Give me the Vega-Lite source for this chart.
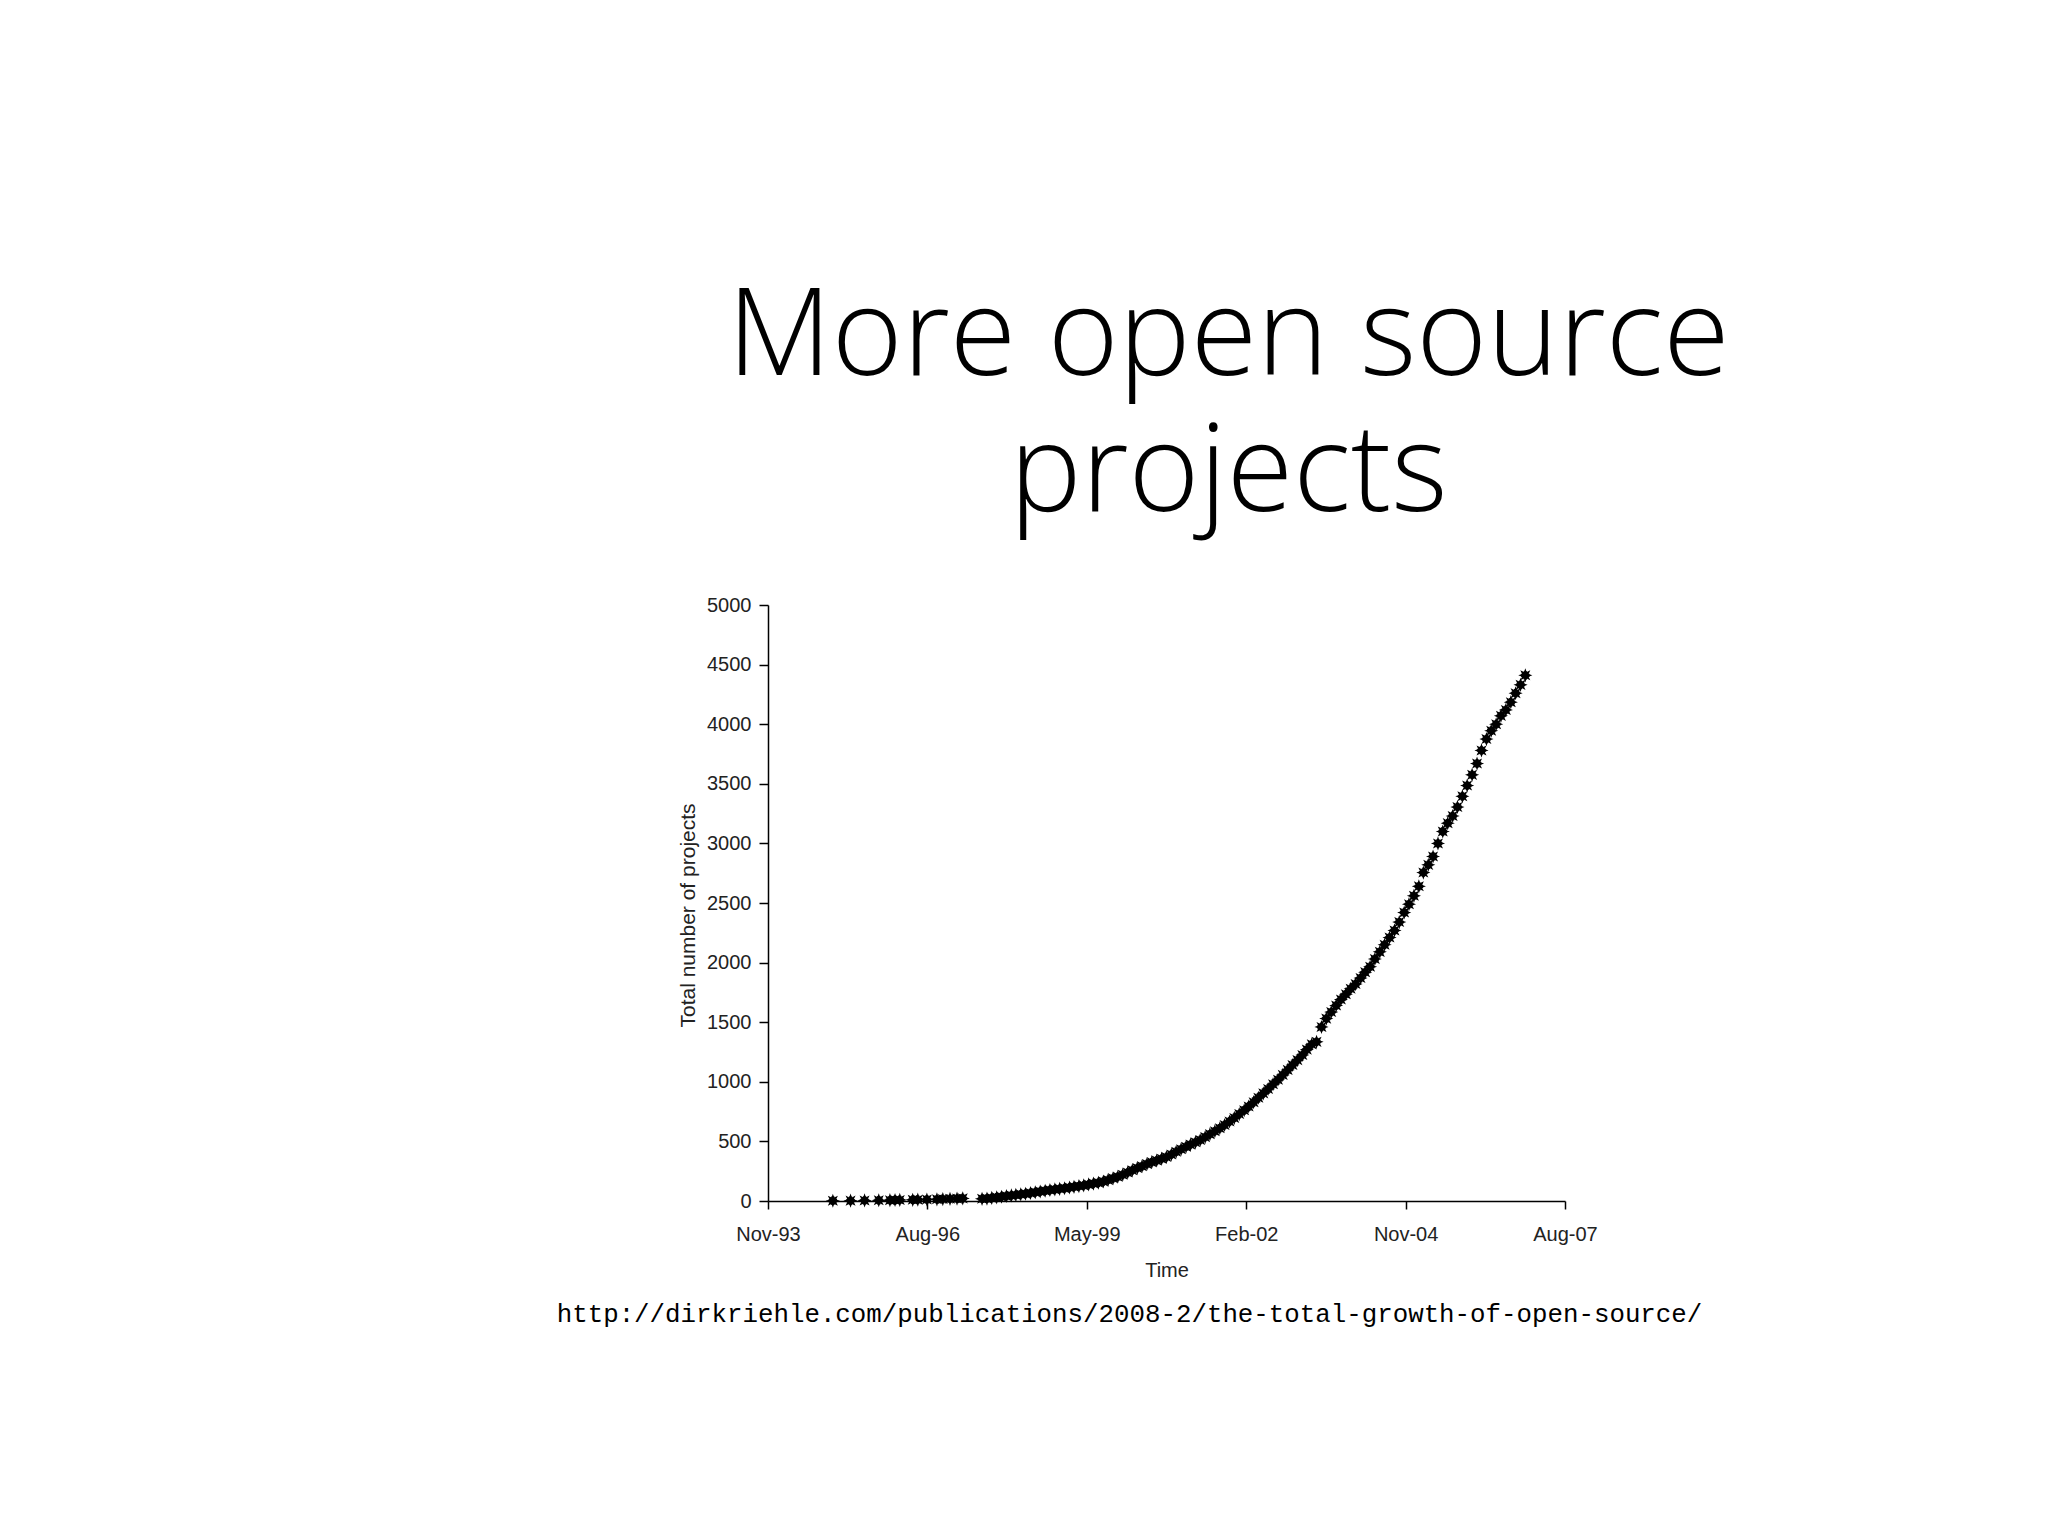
{
  "$schema": "https://vega.github.io/schema/vega-lite/v6.json",
  "width": 797,
  "height": 596,
  "autosize": {"type": "none"},
  "padding": {"left": 768, "top": 605, "right": 483, "bottom": 334},
  "background": "white",
  "title": {
    "text": ["More open source", "projects"],
    "orient": "top",
    "anchor": "middle",
    "frame": "group",
    "font": "Open Sans",
    "fontWeight": 300,
    "fontSize": 121,
    "lineHeight": 136,
    "color": "black",
    "baseline": "bottom",
    "offset": 50,
    "dx": 62,
    "dy": 112
  },
  "config": {"view": {"stroke": null}},
  "data": {
    "values": [
      {"d": "1995-01-08", "n": 2}, {"d": "1995-04-29", "n": 3}, {"d": "1995-07-26", "n": 5},
      {"d": "1995-10-23", "n": 6}, {"d": "1996-01-01", "n": 7}, {"d": "1996-02-02", "n": 8},
      {"d": "1996-03-03", "n": 9}, {"d": "1996-05-23", "n": 10}, {"d": "1996-06-24", "n": 11},
      {"d": "1996-08-20", "n": 13}, {"d": "1996-10-22", "n": 14}, {"d": "1996-11-28", "n": 16},
      {"d": "1997-01-12", "n": 18}, {"d": "1997-02-25", "n": 20}, {"d": "1997-04-02", "n": 22},
      {"d": "1997-08-01", "n": 18}, {"d": "1997-09-01", "n": 20}, {"d": "1997-10-01", "n": 26},
      {"d": "1997-11-01", "n": 31}, {"d": "1997-12-01", "n": 36},
      {"d": "1998-01-01", "n": 42}, {"d": "1998-02-01", "n": 47}, {"d": "1998-03-01", "n": 51},
      {"d": "1998-04-01", "n": 56}, {"d": "1998-05-01", "n": 61}, {"d": "1998-06-01", "n": 67},
      {"d": "1998-07-01", "n": 73}, {"d": "1998-08-01", "n": 80}, {"d": "1998-09-01", "n": 86},
      {"d": "1998-10-01", "n": 92}, {"d": "1998-11-01", "n": 97}, {"d": "1998-12-01", "n": 102},
      {"d": "1999-01-01", "n": 107}, {"d": "1999-02-01", "n": 113}, {"d": "1999-03-01", "n": 119},
      {"d": "1999-04-01", "n": 125}, {"d": "1999-05-01", "n": 131}, {"d": "1999-06-01", "n": 139},
      {"d": "1999-07-01", "n": 146}, {"d": "1999-08-01", "n": 153}, {"d": "1999-09-01", "n": 164},
      {"d": "1999-10-01", "n": 177}, {"d": "1999-11-01", "n": 190}, {"d": "1999-12-01", "n": 203},
      {"d": "2000-01-01", "n": 221}, {"d": "2000-02-01", "n": 239}, {"d": "2000-03-01", "n": 258},
      {"d": "2000-04-01", "n": 276}, {"d": "2000-05-01", "n": 292}, {"d": "2000-06-01", "n": 310},
      {"d": "2000-07-01", "n": 326}, {"d": "2000-08-01", "n": 340}, {"d": "2000-09-01", "n": 355},
      {"d": "2000-10-01", "n": 369}, {"d": "2000-11-01", "n": 390}, {"d": "2000-12-01", "n": 413},
      {"d": "2001-01-01", "n": 435}, {"d": "2001-02-01", "n": 455}, {"d": "2001-03-01", "n": 473},
      {"d": "2001-04-01", "n": 492}, {"d": "2001-05-01", "n": 512}, {"d": "2001-06-01", "n": 536},
      {"d": "2001-07-01", "n": 561}, {"d": "2001-08-01", "n": 586}, {"d": "2001-09-01", "n": 610},
      {"d": "2001-10-01", "n": 638}, {"d": "2001-11-01", "n": 667}, {"d": "2001-12-01", "n": 697},
      {"d": "2002-01-01", "n": 729}, {"d": "2002-02-01", "n": 761}, {"d": "2002-03-01", "n": 793},
      {"d": "2002-04-01", "n": 829}, {"d": "2002-05-01", "n": 866}, {"d": "2002-06-01", "n": 903},
      {"d": "2002-07-01", "n": 940}, {"d": "2002-08-01", "n": 980}, {"d": "2002-09-01", "n": 1017},
      {"d": "2002-10-01", "n": 1058}, {"d": "2002-11-01", "n": 1100}, {"d": "2002-12-01", "n": 1141},
      {"d": "2003-01-01", "n": 1182}, {"d": "2003-02-01", "n": 1225}, {"d": "2003-03-01", "n": 1270},
      {"d": "2003-04-01", "n": 1314}, {"d": "2003-05-01", "n": 1335}, {"d": "2003-06-01", "n": 1460},
      {"d": "2003-07-01", "n": 1530}, {"d": "2003-08-01", "n": 1585}, {"d": "2003-09-01", "n": 1640},
      {"d": "2003-10-01", "n": 1690}, {"d": "2003-11-01", "n": 1735}, {"d": "2003-12-01", "n": 1780},
      {"d": "2004-01-01", "n": 1820}, {"d": "2004-02-01", "n": 1870}, {"d": "2004-03-01", "n": 1920},
      {"d": "2004-04-01", "n": 1965}, {"d": "2004-05-01", "n": 2030}, {"d": "2004-06-01", "n": 2090},
      {"d": "2004-07-01", "n": 2150}, {"d": "2004-08-01", "n": 2210}, {"d": "2004-09-01", "n": 2270},
      {"d": "2004-10-01", "n": 2340}, {"d": "2004-11-01", "n": 2420}, {"d": "2004-12-01", "n": 2490},
      {"d": "2005-01-01", "n": 2560}, {"d": "2005-02-01", "n": 2640}, {"d": "2005-03-01", "n": 2755},
      {"d": "2005-04-01", "n": 2820}, {"d": "2005-05-01", "n": 2890}, {"d": "2005-06-01", "n": 3000},
      {"d": "2005-07-01", "n": 3100}, {"d": "2005-08-01", "n": 3170}, {"d": "2005-09-01", "n": 3230},
      {"d": "2005-10-01", "n": 3305}, {"d": "2005-11-01", "n": 3395}, {"d": "2005-12-01", "n": 3485},
      {"d": "2006-01-01", "n": 3575}, {"d": "2006-02-01", "n": 3670}, {"d": "2006-03-01", "n": 3780},
      {"d": "2006-04-01", "n": 3875}, {"d": "2006-05-01", "n": 3945}, {"d": "2006-06-01", "n": 4000},
      {"d": "2006-07-01", "n": 4070}, {"d": "2006-08-01", "n": 4120}, {"d": "2006-09-01", "n": 4185},
      {"d": "2006-10-01", "n": 4260}, {"d": "2006-11-01", "n": 4330}, {"d": "2006-12-01", "n": 4410}
    ]
  },
  "layer": [
    {
      "mark": {
        "type": "point",
        "shape": "M0,-1L0.19,-0.46L0.71,-0.71L0.46,-0.19L1,0L0.46,0.19L0.71,0.71L0.19,0.46L0,1L-0.19,0.46L-0.71,0.71L-0.46,0.19L-1,0L-0.46,-0.19L-0.71,-0.71L-0.19,-0.46Z",
        "filled": true,
        "color": "black",
        "opacity": 1,
        "size": 200
      },
      "encoding": {
        "x": {
          "field": "d",
          "type": "temporal",
          "scale": {
            "type": "utc",
            "domain": [
              {"year": 1993, "month": 11, "date": 27, "utc": true},
              {"year": 2007, "month": 8, "date": 7, "utc": true}
            ]
          },
          "axis": {
            "title": "Time",
            "values": [
              {"year": 1993, "month": 11, "date": 27, "utc": true},
              {"year": 1996, "month": 8, "date": 23, "utc": true},
              {"year": 1999, "month": 5, "date": 20, "utc": true},
              {"year": 2002, "month": 2, "date": 14, "utc": true},
              {"year": 2004, "month": 11, "date": 10, "utc": true},
              {"year": 2007, "month": 8, "date": 7, "utc": true}
            ],
            "labelExpr": "utcFormat(datum.value, '%b-%y')",
            "grid": false,
            "labelFlush": false,
            "labelOverlap": false,
            "labelFont": "Liberation Sans",
            "labelFontSize": 20,
            "labelColor": "#222",
            "labelPadding": 15,
            "tickSize": 8,
            "tickColor": "black",
            "tickWidth": 1.5,
            "domainColor": "black",
            "domainWidth": 1.5,
            "titleFont": "Liberation Sans",
            "titleFontSize": 20,
            "titleFontWeight": "normal",
            "titleColor": "#222",
            "titlePadding": 16
          }
        },
        "y": {
          "field": "n",
          "type": "quantitative",
          "scale": {"domain": [0, 5000]},
          "axis": {
            "title": "Total number of projects",
            "values": [0, 500, 1000, 1500, 2000, 2500, 3000, 3500, 4000, 4500, 5000],
            "format": "d",
            "grid": false,
            "labelFlush": false,
            "labelOverlap": false,
            "labelFont": "Liberation Sans",
            "labelFontSize": 20,
            "labelColor": "#222",
            "labelPadding": 8,
            "tickSize": 9,
            "tickColor": "black",
            "tickWidth": 1.5,
            "domainColor": "black",
            "domainWidth": 1.5,
            "titleFont": "Liberation Sans",
            "titleFontSize": 21,
            "titleFontWeight": "normal",
            "titleColor": "#222",
            "titlePadding": 8,
            "titleY": 310
          }
        }
      }
    },
    {
      "mark": {"type": "point", "shape": "cross", "filled": true, "color": "black", "opacity": 1, "size": 70},
      "encoding": {
        "x": {
          "field": "d",
          "type": "temporal",
          "axis": {
            "orient": "bottom",
            "title": "http://dirkriehle.com/publications/2008-2/the-total-growth-of-open-source/",
            "labels": false,
            "ticks": false,
            "domain": false,
            "grid": false,
            "titleFont": "Liberation Mono",
            "titleFontSize": 25.8,
            "titleFontWeight": "normal",
            "titleColor": "black",
            "titleX": 361,
            "titleY": 120,
            "titleBaseline": "alphabetic"
          }
        },
        "y": {"field": "n", "type": "quantitative", "axis": null}
      }
    }
  ],
  "resolve": {"axis": {"x": "independent", "y": "independent"}}
}
